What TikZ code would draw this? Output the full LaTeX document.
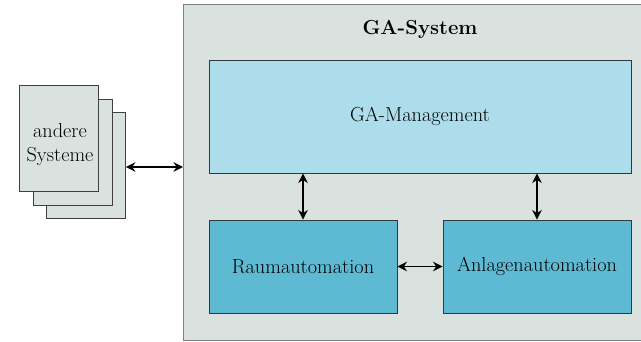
\documentclass[tikz,border=0pt]{standalone}
\usetikzlibrary{arrows.meta}
\definecolor{sysbg}{HTML}{D9E2DE}
\definecolor{mgmt}{HTML}{ADDCEA}
\definecolor{lower}{HTML}{5EBAD3}
\definecolor{docbg}{HTML}{D9E2DE}
\definecolor{edge}{HTML}{2F3A3E}
\begin{document}
\begin{tikzpicture}[x=1pt,y=-1pt,
  box/.style={draw=edge, line width=0.9pt, inner sep=0pt, align=center, font=\fontsize{20.3}{24}\selectfont},
  page/.style={draw=black!75, line width=0.8pt, fill=docbg, inner sep=0pt, minimum width=79pt, minimum height=106pt},
  pagetext/.style={inner sep=0pt, align=center, font=\fontsize{20.3}{24}\selectfont},
  link/.style={{Stealth[length=9.5pt,width=9.5pt]}-{Stealth[length=9.5pt,width=9.5pt]}, line width=1.5pt, black}]
\useasboundingbox (0,0) rectangle (641,342);
\begin{scope}
\clip (0,0) rectangle (641,342);
\node[draw=black!50, line width=1pt, fill=sysbg, inner sep=0pt, minimum width=477pt, minimum height=336.5pt] (sys) at (421.5,172.75) {};
\end{scope}
\node[font=\fontsize{20.3}{24}\selectfont\bfseries] (title) at (420,29) {GA-System};
\node[box, fill=mgmt, minimum width=422pt, minimum height=113pt] (man) at (420,116.5) {GA-Management};
\node[box, fill=lower, minimum width=188pt, minimum height=93pt] (raum) at (303,266.5) {\raisebox{-3pt}{Raumautomation}};
\node[box, fill=lower, minimum width=188pt, minimum height=93pt] (anl) at (537,266.5) {\raisebox{-3pt}{Anlagenautomation}};
\node[page] (p3) at (86,165.5) {};
\node[page] (p2) at (72.5,152) {};
\node[page] (p1) at (58.5,138) {};
\node[pagetext] (p1text) at (60,145) {andere\\Systeme};
\draw[link] (man.south -| raum.north) -- (raum.north);
\draw[link] (man.south -| anl.north) -- (anl.north);
\draw[link] (raum.east) -- (anl.west);
\coordinate (sysw) at (183,167);
\draw[link] (p3.east |- sysw) -- (sysw);
\end{tikzpicture}
\end{document}
